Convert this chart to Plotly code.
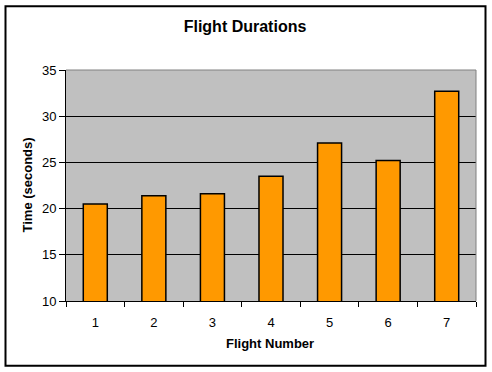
import plotly.graph_objects as go

flights = [1, 2, 3, 4, 5, 6, 7]
durations = [20.5, 21.4, 21.6, 23.5, 27.1, 25.2, 32.7]
y_ticks = [10, 15, 20, 25, 30, 35]

W, H = 492, 372
L, R, T, B = 66, 16, 69.5, 71
pw = W - L - R
ph = H - T - B

fig = go.Figure(go.Bar(
    x=flights, y=durations, width=0.41,
    marker=dict(color="#FF9900", line=dict(color="black", width=1.5)),
))

font = "Liberation Sans, Arial, sans-serif"

def px(xp):
    return (xp - L) / pw

def py(yp):
    return (H - B - yp) / ph

fig.update_layout(
    width=W, height=H,
    margin=dict(l=L, r=R, t=T, b=B),
    paper_bgcolor="white", plot_bgcolor="#C0C0C0",
    showlegend=False,
    font=dict(family=font, color="black", size=13),
    title=dict(text="<b>Flight Durations</b>", x=245 / W, xanchor="center",
               y=1 - 26 / H, yanchor="middle", yref="container", xref="container",
               font=dict(size=16, family=font, color="black")),
    xaxis=dict(range=[0.5, 7.5], tickvals=flights, ticktext=[str(f) for f in flights],
               ticks="", showgrid=False, zeroline=False, automargin=False,
               showline=True, linecolor="black", linewidth=1,
               tickfont=dict(size=13), ticklabelstandoff=9,
               minor=dict(tickvals=[i + 0.5 for i in range(0, 8)], ticks="outside",
                          ticklen=5, tickcolor="black", tickwidth=1, showgrid=False)),
    yaxis=dict(range=[10, 35], tickvals=y_ticks, ticks="outside", ticklen=6,
               tickcolor="black", showgrid=True, gridcolor="black", gridwidth=1,
               zeroline=False, showline=True, linecolor="black", linewidth=1,
               automargin=False, tickfont=dict(size=13)),
    annotations=[
        dict(text="<b>Flight Number</b>", xref="paper", yref="paper",
             x=px(270), y=py(344), xanchor="center", yanchor="middle",
             showarrow=False, font=dict(size=13)),
        dict(text="<b>Time (seconds)</b>", xref="paper", yref="paper",
             x=px(27), y=0.5, xanchor="center", yanchor="middle", textangle=-90,
             showarrow=False, font=dict(size=13)),
    ],
    shapes=[
        dict(type="line", xref="paper", yref="paper", x0=0, x1=1, y0=1, y1=1,
             line=dict(color="#808080", width=1)),
        dict(type="line", xref="paper", yref="paper", x0=1, x1=1, y0=0, y1=1,
             line=dict(color="#808080", width=1)),
        dict(type="rect", xref="paper", yref="paper",
             x0=px(5.5), x1=px(485.5), y0=py(366), y1=py(5.5),
             line=dict(color="black", width=2), fillcolor="rgba(0,0,0,0)", layer="above"),
    ],
)

fig.write_html("out.html", config={"displayModeBar": False},
               post_script="document.body.style.margin='0';document.body.style.overflow='hidden';")
